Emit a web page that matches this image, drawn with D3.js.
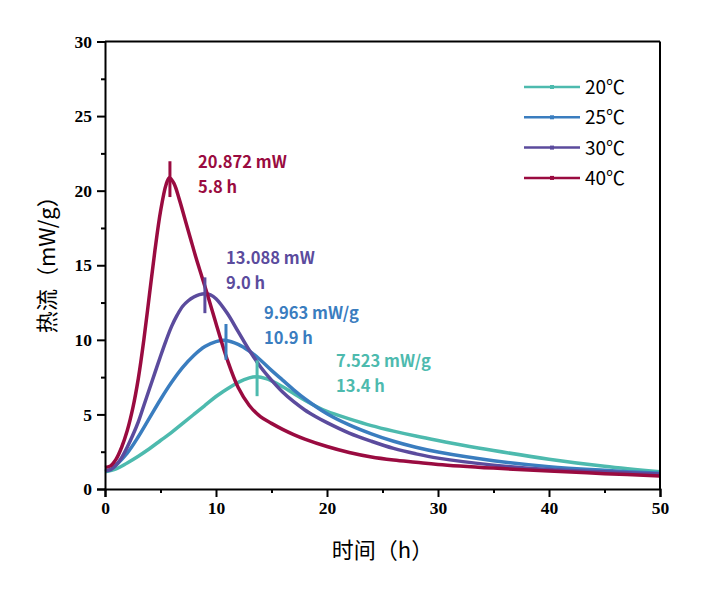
<!DOCTYPE html>
<html lang="zh">
<head>
<meta charset="UTF-8">
<title>热流曲线</title>
<script src="https://cdn.jsdelivr.net/npm/d3@7/dist/d3.min.js"></script>
<style>
  body { margin: 0; background: #fff; }
  svg { display: block; }
</style>
</head>
<body>
<div id="chart"></div>
<script>
// series labels and colours
const seriesNames = ['20℃', '25℃', '30℃', '40℃'];
const seriesColors = ['#4dbaae', '#3a7dbf', '#5b4b9d', '#9a0b40'];

// time (h) and heat flow (mW/g)
const t20 = [0, 1, 2, 3, 4, 5, 6, 7, 8, 9, 10, 11, 12, 13, 13.7, 14.5, 15, 16, 17, 18, 19, 20, 22, 24, 26, 28, 30, 32, 35, 40, 45, 50];
const v20 = [1.15, 1.35, 1.75, 2.2, 2.7, 3.25, 3.8, 4.4, 5.0, 5.6, 6.2, 6.7, 7.15, 7.45, 7.523, 7.4, 7.25, 6.85, 6.4, 5.95, 5.55, 5.2, 4.7, 4.25, 3.88, 3.55, 3.25, 2.97, 2.58, 2.0, 1.52, 1.15];

const t25 = [0, 0.5, 1, 2, 3, 4, 5, 6, 7, 8, 9, 10, 10.9, 12, 13, 14, 15, 16, 17, 18, 20, 22, 24, 26, 28, 30, 35, 40, 45, 50];
const v25 = [1.2, 1.3, 1.6, 2.4, 3.5, 4.75, 6.0, 7.15, 8.15, 8.95, 9.55, 9.88, 9.963, 9.7, 9.25, 8.65, 7.95, 7.3, 6.65, 6.05, 5.05, 4.3, 3.7, 3.2, 2.8, 2.48, 1.9, 1.5, 1.25, 1.05];

const t30 = [0, 0.5, 1, 1.5, 2, 2.5, 3, 3.5, 4, 4.5, 5, 5.5, 6, 6.5, 7, 7.5, 8, 8.5, 9, 9.5, 10, 11, 12, 13, 14, 15, 16, 17, 18, 19, 20, 22, 24, 26, 28, 30, 35, 40, 45, 50];
const v30 = [1.25, 1.3, 1.6, 2.1, 2.8, 3.6, 4.5, 5.6, 6.7, 7.8, 8.9, 9.95, 10.9, 11.65, 12.25, 12.62, 12.87, 13.03, 13.088, 13.02, 12.76, 11.8, 10.55, 9.3, 8.2, 7.3, 6.5, 5.85, 5.3, 4.85, 4.45, 3.75, 3.2, 2.72, 2.36, 2.07, 1.6, 1.3, 1.15, 1.0];

const t40 = [0, 0.5, 1, 1.5, 2, 2.5, 3, 3.5, 4, 4.5, 5, 5.5, 5.8, 6.2, 6.7, 7.2, 7.7, 8.2, 8.7, 9.2, 10, 11, 12, 13, 14, 15, 16, 17, 18, 20, 22, 24, 26, 28, 30, 35, 40, 45, 50];
const v40 = [1.45, 1.55, 2.0, 2.8, 3.9, 5.4, 7.4, 10.0, 13.0, 16.0, 18.6, 20.4, 20.872, 20.5, 19.4, 18.1, 16.8, 15.5, 14.3, 13.1, 11.1, 8.7, 6.8, 5.6, 4.85, 4.4, 4.0, 3.65, 3.35, 2.85, 2.45, 2.15, 1.95, 1.8, 1.65, 1.4, 1.2, 1.03, 0.87];

// peak marks and their labels
const peakT = [13.7, 10.9, 9.0, 5.85];
const peakV = [7.523, 9.963, 13.088, 20.872];
const peakLabel1 = ['7.523 mW/g', '9.963 mW/g', '13.088 mW', '20.872 mW'];
const peakLabel2 = ['13.4 h', '10.9 h', '9.0 h', '5.8 h'];

const xTicks = [0, 10, 20, 30, 40, 50];
const yTicks = [0, 5, 10, 15, 20, 25, 30];

const width = 706, height = 596;
const margin = { top: 41.5, right: 46, bottom: 107, left: 105 };
const innerW = width - margin.left - margin.right;
const innerH = height - margin.top - margin.bottom;

const svg = d3.select('#chart').append('svg')
    .attr('width', width)
    .attr('height', height);

const g = svg.append('g')
    .attr('transform', `translate(${margin.left},${margin.top})`);

const x = d3.scaleLinear().domain([0, 50]).range([0, innerW]);
const y = d3.scaleLinear().domain([0, 30]).range([innerH, 0]);

const series = [
    { name: seriesNames[0], t: t20, v: v20 },
    { name: seriesNames[1], t: t25, v: v25 },
    { name: seriesNames[2], t: t30, v: v30 },
    { name: seriesNames[3], t: t40, v: v40 }
];

// curves
const line = d3.line()
    .x(d => x(d[0]))
    .y(d => y(d[1]))
    .curve(d3.curveCatmullRom.alpha(0.5));

series.forEach((s, i) => {
    g.append('path')
        .datum(s.t.map((t, j) => [t, s.v[j]]))
        .attr('fill', 'none')
        .attr('stroke', seriesColors[i])
        .attr('stroke-width', 3.5)
        .attr('stroke-linejoin', 'round')
        .attr('d', line);
});

// peak marks
peakT.forEach((t, i) => {
    g.append('line')
        .attr('x1', x(t)).attr('x2', x(t))
        .attr('y1', y(peakV[i] + 1.1)).attr('y2', y(peakV[i] - 1.3))
        .attr('stroke', seriesColors[i])
        .attr('stroke-width', 3);
});

// peak labels (text positions picked by eye)
const labelPos = [[231, 325.5], [159, 277.5], [121, 222.5], [93, 126.5]];
labelPos.forEach((p, i) => {
    const txt = g.append('text')
        .attr('x', p[0]).attr('y', p[1])
        .attr('fill', seriesColors[i])
        .attr('font-family', '"Noto Sans CJK SC", "Noto Sans", sans-serif')
        .attr('font-weight', 'bold')
        .attr('font-size', 16.5);
    txt.append('tspan').attr('x', p[0]).text(peakLabel1[i]);
    txt.append('tspan').attr('x', p[0]).attr('dy', 25).text(peakLabel2[i]);
});

// frame
g.append('line').attr('x1', 0).attr('x2', innerW).attr('y1', 0).attr('y2', 0)
    .attr('stroke', '#000').attr('stroke-width', 2);
g.append('line').attr('x1', innerW).attr('x2', innerW).attr('y1', 0).attr('y2', innerH)
    .attr('stroke', '#000').attr('stroke-width', 2);

// axes
const xAxis = g.append('g')
    .attr('transform', `translate(0,${innerH})`)
    .call(d3.axisBottom(x).tickValues(xTicks).tickSize(8).tickPadding(5).tickFormat(d3.format('d')));
const xMinor = g.append('g')
    .attr('transform', `translate(0,${innerH})`)
    .call(d3.axisBottom(x).tickValues(d3.range(5, 50, 10)).tickSize(4).tickFormat(''));

const yAxis = g.append('g')
    .call(d3.axisLeft(y).tickValues(yTicks).tickSize(8).tickPadding(5).tickFormat(d3.format('d')));
const yMinor = g.append('g')
    .call(d3.axisLeft(y).tickValues(d3.range(2.5, 30, 5)).tickSize(4).tickFormat(''));

[xAxis, xMinor, yAxis, yMinor].forEach(a => {
    a.select('.domain').attr('stroke', '#000').attr('stroke-width', 2);
    a.selectAll('.tick line').attr('stroke', '#000').attr('stroke-width', 2);
    a.selectAll('.tick text')
        .attr('fill', '#000')
        .attr('font-family', '"Liberation Serif", "Times New Roman", serif')
        .attr('font-weight', 'bold')
        .attr('font-size', 17.5);
});
xMinor.select('.domain').remove();
yMinor.select('.domain').remove();

// axis titles
g.append('text')
    .attr('x', innerW / 2).attr('y', innerH + 69)
    .attr('text-anchor', 'middle')
    .attr('font-family', '"Noto Sans CJK SC", sans-serif')
    .attr('font-size', 22)
    .text('时间（h）');

g.append('text')
    .attr('transform', `translate(-50,${innerH / 2 - 6}) rotate(-90)`)
    .attr('text-anchor', 'middle')
    .attr('font-family', '"Noto Sans CJK SC", sans-serif')
    .attr('font-size', 22)
    .text('热流（mW/g）');

// legend
const legend = svg.append('g').attr('transform', 'translate(524,87)');
seriesNames.forEach((n, i) => {
    const row = legend.append('g').attr('transform', `translate(0,${i * 30.3})`);
    row.append('line')
        .attr('x1', 0).attr('x2', 56)
        .attr('stroke', seriesColors[i]).attr('stroke-width', 2.5);
    row.append('rect')
        .attr('x', 26).attr('y', -2).attr('width', 4).attr('height', 4)
        .attr('fill', seriesColors[i]);
    row.append('text')
        .attr('x', 61).attr('y', 7)
        .attr('font-family', '"Noto Sans CJK SC", "Noto Sans", sans-serif')
        .attr('font-size', 19)
        .text(n);
});
</script>
</body>
</html>
